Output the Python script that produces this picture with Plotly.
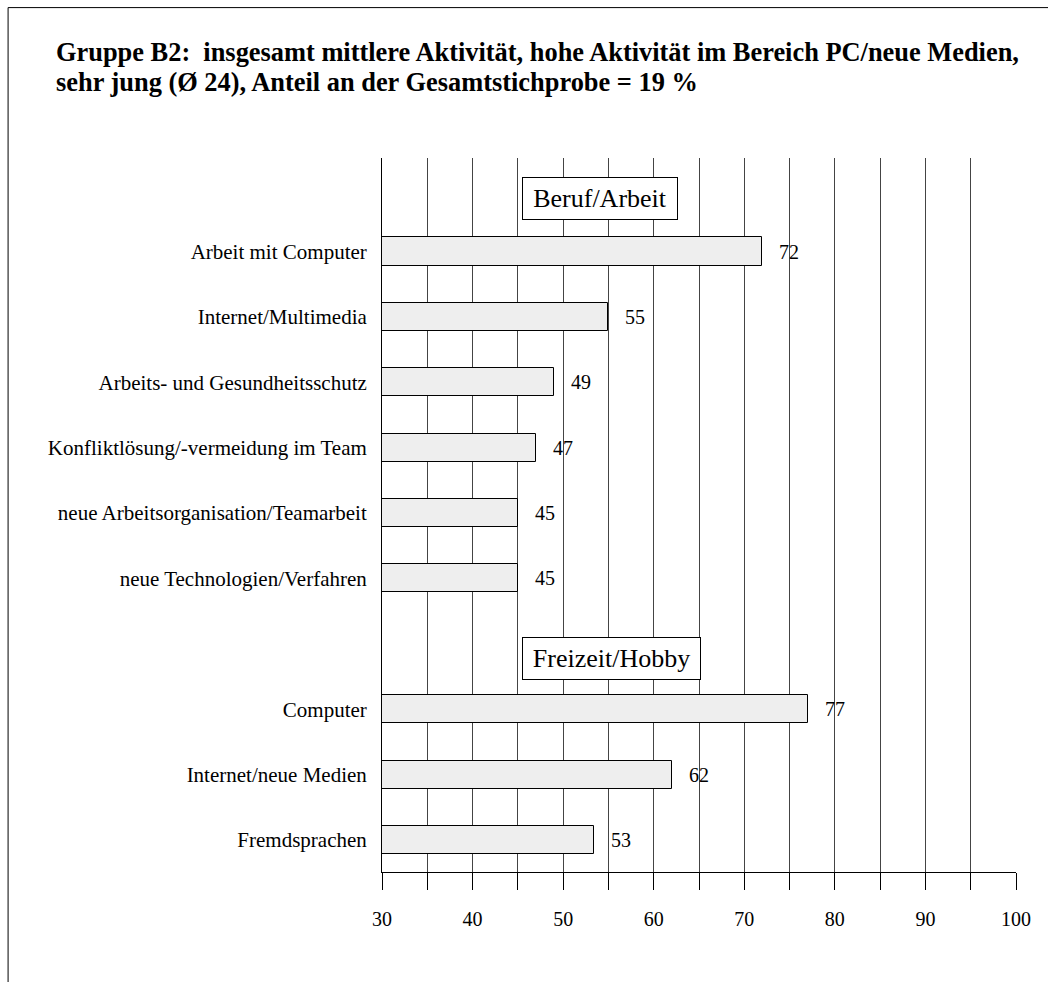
import plotly.graph_objects as go

# ---- data ----
group_titles = ["Beruf/Arbeit", "Freizeit/Hobby"]
beruf_labels = [
    "Arbeit mit Computer",
    "Internet/Multimedia",
    "Arbeits- und Gesundheitsschutz",
    "Konfliktlösung/-vermeidung im Team",
    "neue Arbeitsorganisation/Teamarbeit",
    "neue Technologien/Verfahren",
]
beruf_values = [72, 55, 49, 47, 45, 45]
freizeit_labels = ["Computer", "Internet/neue Medien", "Fremdsprachen"]
freizeit_values = [77, 62, 53.4]
x_ticks = [30, 40, 50, 60, 70, 80, 90, 100]

title_line1 = "Gruppe B2:\u00a0 insgesamt mittlere Aktivität, hohe Aktivität im Bereich PC/neue Medien,"
title_line2 = "sehr jung (Ø 24), Anteil an der Gesamtstichprobe = 19 %"

# ---- layout geometry (pixels) ----
W, H = 1048, 982
L, R, T, B = 381.5, 1016.5, 157.5, 872.0
FONT = "Liberation Serif"

def px_x(x):
    return (x - L) / (R - L)

def px_y(y):
    return (B - y) / (B - T)

# positions: group 1 at 0..5, gap slot, group 2 after
labels = beruf_labels + freizeit_labels
values = beruf_values + freizeit_values
ypos = list(range(len(beruf_labels))) + [len(beruf_labels) + 1 + i for i in range(len(freizeit_labels))]

fig = go.Figure()
fig.add_trace(go.Bar(
    x=values, y=ypos, base=0, orientation="h",
    width=0.43,
    marker=dict(color="#eeeeee", line=dict(color="black", width=1)),
    hoverinfo="skip", showlegend=False,
))

annotations = []
for v, y in zip(values, ypos):
    annotations.append(dict(
        x=v, y=y, xref="x", yref="y", text=str(round(v)), showarrow=False,
        xanchor="left", yanchor="middle", xshift=15,
        font=dict(family=FONT, size=20, color="black"),
    ))

# section headers
hdr_y = [-0.818, 6.227]
hdr_w = [146, 169]
for t, y, w in zip(group_titles, hdr_y, hdr_w):
    annotations.append(dict(
        x=45.5, y=y, xref="x", yref="y", text=t, showarrow=False,
        xanchor="left", yanchor="middle", width=w, height=33, align="center",
        bordercolor="black", borderwidth=1, borderpad=4, bgcolor="white",
        font=dict(family=FONT, size=26, color="black"),
    ))

# title (two lines)
for txt, yc in [(title_line1, 51), (title_line2, 81)]:
    annotations.append(dict(
        x=px_x(53), y=px_y(yc), xref="paper", yref="paper", text=txt,
        showarrow=False, xanchor="left", yanchor="middle",
        font=dict(family=FONT, size=26.4, color="black", weight="bold"),
    ))

shapes = [
    dict(type="line", xref="paper", yref="paper",
         x0=px_x(7), x1=px_x(7), y0=px_y(7), y1=px_y(H + 5),
         line=dict(color="black", width=1)),
    dict(type="line", xref="paper", yref="paper",
         x0=px_x(7), x1=px_x(W + 5), y0=px_y(7), y1=px_y(7),
         line=dict(color="black", width=1)),
]

fig.update_layout(
    width=W, height=H,
    margin=dict(l=L, r=W - R, t=T, b=H - B, pad=0),
    paper_bgcolor="white", plot_bgcolor="white",
    font=dict(family=FONT, size=20, color="black"),
    bargap=0,
    annotations=annotations,
    shapes=shapes,
    xaxis=dict(
        range=[30, 100], autorange=False,
        tickvals=x_ticks, ticks="outside", ticklen=17, tickcolor="black", tickwidth=1,
        showgrid=True, gridcolor="#444", gridwidth=1,
        minor=dict(dtick=5, ticks="outside", ticklen=17, tickcolor="black",
                   showgrid=True, gridcolor="#444", gridwidth=1),
        showline=True, linecolor="black", linewidth=1,
        zeroline=False,
        ticklabelstandoff=12,
        tickfont=dict(family=FONT, size=20, color="black"),
    ),
    yaxis=dict(
        range=[9.49, -1.43], autorange=False,
        tickvals=ypos, ticktext=labels, ticks="",
        showgrid=False, zeroline=False,
        showline=True, linecolor="black", linewidth=1,
        ticklabelstandoff=10,
        tickfont=dict(family=FONT, size=21, color="black"),
    ),
)

fig.write_html(
    "out.html",
    config={"displayModeBar": False},
    post_script="document.body.style.margin='0';document.body.style.padding='0';",
)
